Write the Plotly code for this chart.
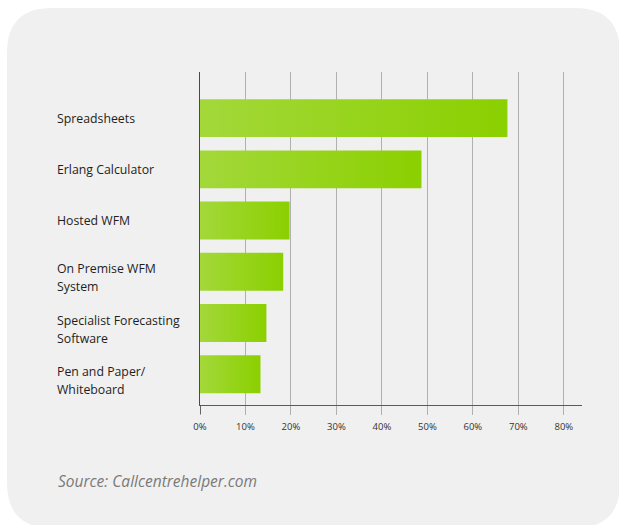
import plotly.graph_objects as go

# ---------------- data ----------------
categories = ["Spreadsheets", "Erlang Calculator", "Hosted WFM",
              "On Premise WFM System", "Specialist Forecasting Software",
              "Pen and Paper/ Whiteboard"]
label_lines = [["Spreadsheets"], ["Erlang Calculator"], ["Hosted WFM"],
               ["On Premise WFM", "System"], ["Specialist Forecasting", "Software"],
               ["Pen and Paper/", "Whiteboard"]]
values = [67.6, 48.7, 19.7, 18.3, 14.6, 13.3]
tick_vals = [0, 10, 20, 30, 40, 50, 60, 70, 80]
tick_text = ["0%", "10%", "20%", "30%", "40%", "50%", "60%", "70%", "80%"]
source_text = "Source: Callcentrehelper.com"

# ---------------- layout geometry ----------------
W, H = 619, 525
ML, MR, MT, MB = 200, 37, 72, 120
PW, PH = W - ML - MR, H - MT - MB
BAR_H = 0.74
FONT = "Open Sans"


def px_x(p):
    return (p - ML) / PW


def px_y(p):
    return (H - MB - p) / PH


fig = go.Figure()

for i, (cat, v) in enumerate(zip(categories, values)):
    y0, y1 = i - BAR_H / 2, i + BAR_H / 2
    fig.add_trace(go.Scatter(
        x=[0, v, v, 0, 0], y=[y0, y0, y1, y1, y0],
        mode="lines", fill="toself", line=dict(width=0),
        fillgradient=dict(type="horizontal",
                          colorscale=[[0, "#A3D83A"], [1, "#8BD000"]]),
        name=cat, showlegend=False, hoverinfo="skip"))

# rounded card background
x0, x1, y0, y1, r = 7, 620, 8, 528, 45
def P(x, y):
    return f"{px_x(x):.5f},{px_y(y):.5f}"
path = (f"M {P(x0 + r, y0)} L {P(x1 - r, y0)} Q {P(x1, y0)} {P(x1, y0 + r)} "
        f"L {P(x1, y1 - r)} Q {P(x1, y1)} {P(x1 - r, y1)} "
        f"L {P(x0 + r, y1)} Q {P(x0, y1)} {P(x0, y1 - r)} "
        f"L {P(x0, y0 + r)} Q {P(x0, y0)} {P(x0 + r, y0)} Z")
shapes = [dict(type="path", xref="paper", yref="paper", path=path,
               fillcolor="#F0F0F0", line=dict(width=0), layer="below"),
          dict(type="line", xref="x", yref="paper", x0=0, x1=0, y0=0, y1=-9 / PH,
               line=dict(color="#4A4A4A", width=1.5))]

annotations = []
for i, lines in enumerate(label_lines):
    n = len(lines)
    for j, t in enumerate(lines):
        shift = 0 if n == 1 else (3 - j * 18)
        annotations.append(dict(
            text=t, xref="paper", yref="y", x=px_x(55), y=i, yshift=shift,
            xanchor="left", yanchor="middle", showarrow=False,
            font=dict(family=FONT, size=12.3, color="#1E1E1E")))
annotations.append(dict(
    text=source_text, xref="paper", yref="paper", x=px_x(56), y=px_y(481),
    xanchor="left", yanchor="middle", showarrow=False,
    font=dict(family=FONT, size=15.5, color="#7A7A7A", style="italic")))

fig.update_layout(
    width=W, height=H,
    margin=dict(l=ML, r=MR, t=MT, b=MB),
    paper_bgcolor="#FFFFFF", plot_bgcolor="rgba(0,0,0,0)",
    shapes=shapes, annotations=annotations,
    xaxis=dict(range=[0, 84], tickvals=tick_vals, ticktext=tick_text,
               showgrid=True, gridcolor="#B0B0B0", gridwidth=1,
               ticks="outside", ticklen=9, tickcolor="#B0B0B0", tickwidth=1,
               showline=True, linecolor="#5A5A5A", linewidth=1,
               zeroline=False, fixedrange=True, ticklabelstandoff=4,
               tickfont=dict(family=FONT, size=9.5, color="#333333")),
    yaxis=dict(range=[len(categories) - 0.4, -0.9], showticklabels=False,
               showgrid=False, zeroline=False, showline=True,
               linecolor="#4A4A4A", linewidth=1.5, ticks="", fixedrange=True),
)

fig.write_html("out.html", config={"displayModeBar": False, "staticPlot": True},
               post_script="document.body.style.margin='0';document.body.style.overflow='hidden';")
